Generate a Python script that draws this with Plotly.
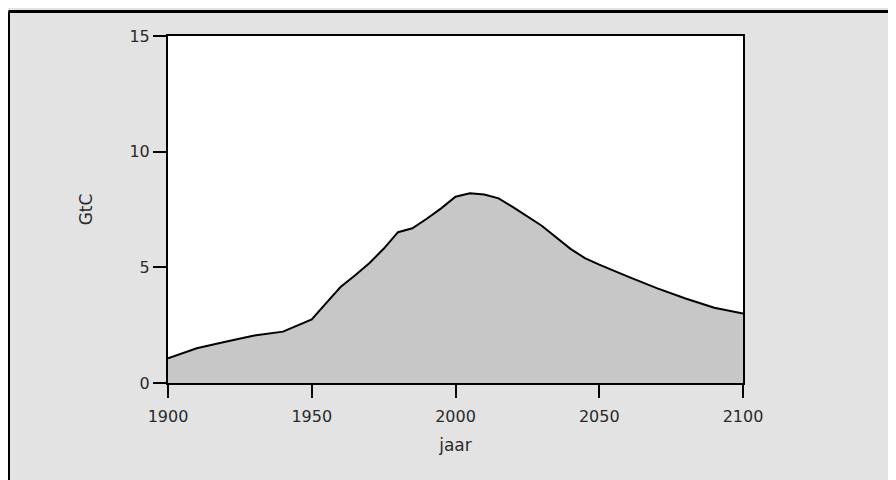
import plotly.graph_objects as go

# emissions curve (year, GtC)
years = [1900, 1905, 1910, 1920, 1930, 1940, 1950, 1955, 1960, 1965, 1970, 1975, 1980,
         1985, 1990, 1995, 2000, 2005, 2010, 2015, 2020, 2030, 2040, 2045, 2050,
         2060, 2070, 2080, 2090, 2100]
gtc = [1.07, 1.3, 1.5, 1.78, 2.05, 2.22, 2.75, 3.45, 4.15, 4.65, 5.18, 5.8, 6.52,
       6.69, 7.1, 7.55, 8.05, 8.2, 8.15, 7.98, 7.6, 6.8, 5.8, 5.4, 5.12,
       4.6, 4.1, 3.65, 3.25, 3.0]

x_ticks = [1900, 1950, 2000, 2050, 2100]
y_ticks = [0, 5, 10, 15]

fig = go.Figure()
fig.add_trace(go.Scatter(
    x=years, y=gtc,
    mode='lines',
    fill='tozeroy',
    fillcolor='#c7c7c7',
    line=dict(color='black', width=2),
    showlegend=False,
    hoverinfo='skip'
))

tick_font = dict(family='DejaVu Sans, sans-serif', size=16, color='#2a2a2a')
title_font = dict(family='DejaVu Sans, sans-serif', size=17, color='#2a2a2a')

fig.update_xaxes(
    range=[1900, 2100], tickvals=x_ticks,
    showline=True, linecolor='black', linewidth=2, mirror=True,
    ticks='outside', ticklen=13, tickwidth=2, tickcolor='black',
    ticklabelstandoff=5,
    showgrid=False, zeroline=False, tickfont=tick_font,
    title=dict(text='jaar', font=title_font, standoff=14)
)
fig.update_yaxes(
    range=[0, 15], tickvals=y_ticks,
    showline=True, linecolor='black', linewidth=2, mirror=True,
    ticks='outside', ticklen=13, tickwidth=2, tickcolor='black',
    showgrid=False, zeroline=False, tickfont=tick_font,
    title=dict(text='GtC', font=title_font, standoff=32)
)

# black edge along the left and top of the grey panel
fig.add_shape(type='line', xref='paper', yref='paper',
              x0=-0.2774, x1=-0.2774, y0=-0.4, y1=1.0706,
              line=dict(color='black', width=3))
fig.add_shape(type='line', xref='paper', yref='paper',
              x0=-0.2774, x1=1.4, y0=1.0706, y1=1.0706,
              line=dict(color='black', width=3))

fig.update_layout(
    width=896, height=480,
    margin=dict(l=160, r=161, t=28, b=105),
    paper_bgcolor='#e3e3e3',
    plot_bgcolor='white',
)

fig.write_html("out.html")
